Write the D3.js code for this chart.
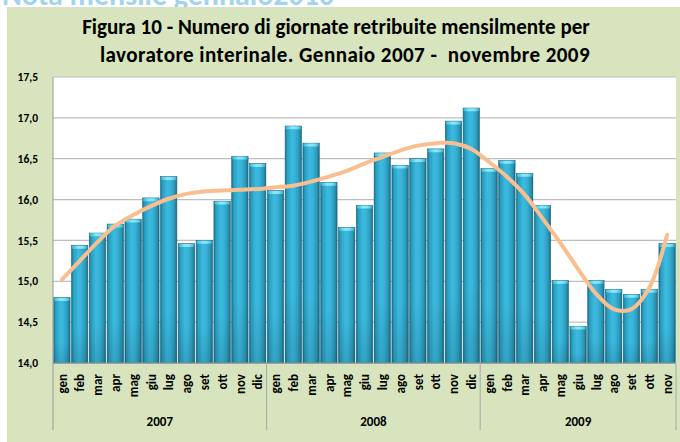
<!DOCTYPE html>
<html><head><meta charset="utf-8">
<script src="https://cdn.jsdelivr.net/npm/d3@7"></script>
<style>html,body{margin:0;padding:0;background:#fff;}svg{display:block;}</style>
</head><body>
<svg id="c" width="680" height="442"></svg>
<script>
const months = ["gen","feb","mar","apr","mag","giu","lug","ago","set","ott","nov","dic"];
const years = ["2007","2008","2009"];
const values = [
  14.80,15.44,15.59,15.70,15.76,16.02,16.28,15.46,15.50,15.98,16.53,16.44,
  16.11,16.90,16.69,16.21,15.66,15.93,16.57,16.42,16.50,16.62,16.96,17.12,
  16.38,16.48,16.32,15.93,15.01,14.45,15.01,14.90,14.84,14.90,15.46
];
const trend = [
  15.02,15.25,15.48,15.68,15.81,15.92,16.01,16.07,16.10,16.11,16.12,16.13,
  16.15,16.17,16.22,16.28,16.35,16.44,16.52,16.60,16.66,16.69,16.69,16.62,
  16.46,16.28,16.06,15.77,15.47,15.15,14.85,14.66,14.66,14.92,15.57
];
const yTicks = [14.0,14.5,15.0,15.5,16.0,16.5,17.0,17.5];
const titleLines = ["Figura 10 - Numero di giornate retribuite mensilmente per",
                    "lavoratore interinale. Gennaio 2007 -  novembre 2009"];
const headerText = "Nota mensile gennaio2010";

const svg = d3.select("#c");
const FONT = "Carlito, Lato, 'Open Sans', sans-serif";

const cats = [];
years.forEach((y,yi)=>{ months.forEach((m,mi)=>{ if (cats.length < values.length) cats.push({key:y+"-"+m, month:m, year:y}); }); });
const data = cats.map((c,i)=>({...c, v: values[i], t: trend[i]}));

// cut-off header text (partly hidden behind the green area, as in the reference)
svg.append("text").attr("x",2).attr("y",5).attr("font-family",FONT).attr("font-weight","bold")
  .attr("font-size",30).attr("fill","#A3D4EE").text(headerText);

svg.append("rect").attr("x",7).attr("y",7).attr("width",673).attr("height",435).attr("fill","#D7E4BD");

const L=53, R=676, T=77, B=363;
const x = d3.scaleBand().domain(data.map(d=>d.key)).range([L,R]).paddingInner(0.08).paddingOuter(0.04);
const y = d3.scaleLinear().domain([14,17.5]).range([B,T]);

svg.append("rect").attr("x",L).attr("y",T).attr("width",R-L).attr("height",B-T).attr("fill","#fff");

svg.append("g").selectAll("line").data(yTicks).join("line")
  .attr("x1",L).attr("x2",R).attr("y1",d=>y(d)).attr("y2",d=>y(d))
  .attr("stroke","#BEBEBE").attr("stroke-width",1.2);

const defs = svg.append("defs");
const g1 = defs.append("linearGradient").attr("id","barg").attr("x1","0").attr("x2","1").attr("y1","0").attr("y2","0");
[[0,"#1A6F89"],[0.12,"#2A9DC0"],[0.4,"#3BBADF"],[0.6,"#38B4D8"],[0.85,"#2B98BA"],[1,"#1B6A83"]]
  .forEach(s=>g1.append("stop").attr("offset",s[0]).attr("stop-color",s[1]));
const g2 = defs.append("linearGradient").attr("id","capg").attr("x1","0").attr("x2","1").attr("y1","0").attr("y2","0");
[[0,"#3FB7D6"],[0.4,"#8AE9FA"],[0.7,"#7FE2F6"],[1,"#3AAFCF"]]
  .forEach(s=>g2.append("stop").attr("offset",s[0]).attr("stop-color",s[1]));
const g3 = defs.append("linearGradient").attr("id","vshade").attr("x1","0").attr("x2","0").attr("y1","0").attr("y2","1");
[[0,"#000",0],[0.7,"#000",0],[1,"#000",0.12]]
  .forEach(s=>g3.append("stop").attr("offset",s[0]).attr("stop-color",s[1]).attr("stop-opacity",s[2]));

const bars = svg.append("g");
bars.selectAll("rect.bar").data(data).join("rect").attr("class","bar")
  .attr("x",d=>x(d.key)).attr("width",x.bandwidth())
  .attr("y",d=>y(d.v)).attr("height",d=>B-y(d.v))
  .attr("fill","url(#barg)").attr("stroke","#1D6A80").attr("stroke-width",0.6);
bars.selectAll("rect.sh").data(data).join("rect").attr("class","sh")
  .attr("x",d=>x(d.key)).attr("width",x.bandwidth())
  .attr("y",d=>y(d.v)).attr("height",d=>B-y(d.v)).attr("fill","url(#vshade)");
bars.selectAll("rect.cap").data(data).join("rect").attr("class","cap")
  .attr("x",d=>x(d.key)+0.5).attr("width",x.bandwidth()-1)
  .attr("y",d=>y(d.v)+0.3).attr("height",3).attr("rx",1)
  .attr("fill","url(#capg)");

const line = d3.line().x(d=>x(d.key)+x.bandwidth()/2).y(d=>y(d.t)).curve(d3.curveCatmullRom.alpha(0.5));
svg.append("path").datum(data).attr("d",line).attr("fill","none")
  .attr("stroke","#F9BF90").attr("stroke-width",4).attr("stroke-linecap","round");

svg.append("line").attr("x1",L).attr("x2",L).attr("y1",T).attr("y2",430).attr("stroke","#9A9A9A").attr("stroke-width",1);
svg.append("line").attr("x1",L).attr("x2",R).attr("y1",B).attr("y2",B).attr("stroke","#9A9A9A").attr("stroke-width",1.2);
const sepIdx = [12,24];
svg.append("g").selectAll("line").data(sepIdx).join("line")
  .attr("x1",d=>x(data[d].key)-x.step()*x.paddingInner()/2).attr("x2",d=>x(data[d].key)-x.step()*x.paddingInner()/2)
  .attr("y1",B).attr("y2",430).attr("stroke","#A8A8A8").attr("stroke-width",1);
svg.append("line").attr("x1",R).attr("x2",R).attr("y1",B).attr("y2",430).attr("stroke","#A8A8A8");

const yAxis = d3.axisLeft(y).tickValues(yTicks).tickSize(0).tickPadding(0).tickFormat(d=>d3.format(".1f")(d).replace(".",","));
const ya = svg.append("g").attr("transform",`translate(38,0)`).call(yAxis);
ya.select(".domain").remove();
ya.selectAll("text").attr("font-family",FONT).attr("font-weight","bold").attr("font-size",11.5).attr("fill","#000").attr("x",0);

svg.append("g").selectAll("text").data(data).join("text")
  .attr("transform",d=>`translate(${x(d.key)+x.bandwidth()/2},374) rotate(-90)`)
  .attr("text-anchor","end").attr("dy","0.36em")
  .attr("font-family",FONT).attr("font-weight","bold").attr("font-size",13).attr("fill","#000")
  .text(d=>d.month);

years.forEach((yr,i)=>{
  const ds = data.filter(d=>d.year===yr);
  const x0 = x(ds[0].key), x1 = x(ds[ds.length-1].key)+x.bandwidth();
  svg.append("text").attr("x",(x0+x1)/2).attr("y",426).attr("text-anchor","middle")
    .attr("font-family",FONT).attr("font-weight","bold").attr("font-size",13).attr("fill","#000").text(yr);
});

const tt = svg.append("g");
const t1 = tt.append("text").attr("x",336).attr("y",34).attr("text-anchor","middle")
  .attr("font-family",FONT).attr("font-weight","bold").attr("font-size",20).attr("fill","#000").text(titleLines[0]);
const w = t1.node().getComputedTextLength();
const fs = 20*508/w;
t1.attr("font-size",fs);
const t2 = tt.append("text").attr("x",345).attr("y",62).attr("text-anchor","middle")
  .attr("font-family",FONT).attr("font-weight","bold").attr("font-size",fs).attr("fill","#000")
  .style("white-space","pre").text(titleLines[1]);
const w2 = t2.node().getComputedTextLength();
const n2 = titleLines[1].length;
t2.attr("letter-spacing", Math.max(0,(490-w2)/(n2-1)).toFixed(2));
</script>
</body></html>
